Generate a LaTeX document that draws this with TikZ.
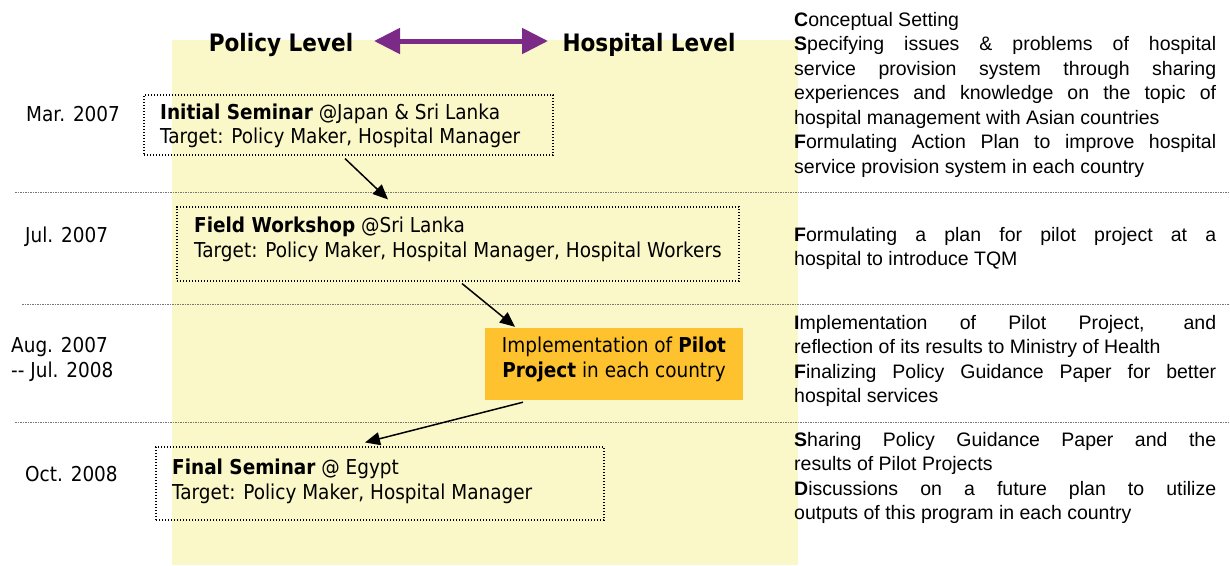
\documentclass[tikz,border=0pt]{standalone}
\usepackage{fontspec}
\setmainfont{Liberation Sans}
\newfontfamily\tah{DejaVu Sans}[FakeStretch=0.9]
\usetikzlibrary{arrows.meta}
\definecolor{bgyellow}{RGB}{250,247,200}
\definecolor{pilotorange}{RGB}{253,194,46}
\definecolor{levelpurple}{RGB}{124,42,136}
\definecolor{sepgray}{RGB}{120,120,120}
\newcommand{\jline}[1]{\makebox[422pt][s]{#1}}
\begin{document}
\begin{tikzpicture}[x=1pt,y=-1pt,
  lt/.style={anchor=base west, inner sep=0pt, font=\tah\fontsize{20.5}{24}\selectfont},
  ht/.style={anchor=base, inner sep=0pt, font=\tah\bfseries\fontsize{24}{28}\selectfont},
  rt/.style={anchor=base west, inner sep=0pt, font=\fontsize{19.5}{24}\selectfont},
  dotbox/.style={draw=black, line width=1.1pt, dash pattern=on 1.1pt off 1.9pt, rectangle, inner sep=0pt},
  sepline/.style={draw=sepgray, line width=0.8pt, dash pattern=on 1.5pt off 1pt},
  flow/.style={draw=black, line width=1.5pt, -{Triangle[length=15pt,width=13pt]}}
]
\useasboundingbox (0,0) rectangle (1230,565);
% background column
\fill[bgyellow] (172,40) rectangle (798,565);
% separators
\draw[sepline] (15,192) -- (1230,192);
\draw[sepline] (22,304) -- (1230,304);
\draw[sepline] (15,422) -- (1230,422);
% headings
\node[ht] (pol) at (281,51) {Policy Level};
\node[ht] (hos) at (649,51) {Hospital Level};
\coordinate (arL) at (374,41);
\coordinate (arR) at (548,41);
\draw[levelpurple, line width=5pt, {Triangle[length=26pt,width=25pt]}-{Triangle[length=26pt,width=25pt]}] (arL) -- (arR);
% dates
\node[lt] (d1) at (26,121) {Mar. 2007};
\node[lt] (d2) at (25,242) {Jul. 2007};
\node[lt] (d3a) at (11,352) {Aug. 2007};
\node[lt] (d3b) at (11,377) {-- Jul. 2008};
\node[lt] (d4) at (25,481) {Oct. 2008};
% boxes
\node[dotbox, minimum width=409pt, minimum height=60pt] (b1) at (348.5,125) {};
\node[lt] (b1a) at (160,119) {\textbf{Initial Seminar} @Japan \& Sri Lanka};
\node[lt] (b1b) at (160,143) {Target: Policy Maker, Hospital Manager};
\node[dotbox, minimum width=562pt, minimum height=74pt] (b2) at (458,244) {};
\node[lt] (b2a) at (194,232) {\textbf{Field Workshop} @Sri Lanka};
\node[lt] (b2b) at (194,257) {Target: Policy Maker, Hospital Manager, Hospital Workers};
\node[fill=pilotorange, rectangle, minimum width=258pt, minimum height=72pt, inner sep=0pt] (b3) at (614,364) {};
\node[lt, anchor=base] (b3a) at (614,352) {Implementation of \textbf{Pilot}};
\node[lt, anchor=base] (b3b) at (614,377) {\textbf{Project} in each country};
\node[dotbox, minimum width=448pt, minimum height=73pt] (b4) at (380,483.5) {};
\node[lt] (b4a) at (172,474) {\textbf{Final Seminar} @ Egypt};
\node[lt] (b4b) at (172,499) {Target: Policy Maker, Hospital Manager};
% connectors
\draw[flow] ([xshift=-3.5pt,yshift=-3pt]b1.south) -- ([xshift=-70pt,yshift=7pt]b2.north);
\draw[flow] ([xshift=4pt,yshift=-2pt]b2.south) -- ([xshift=-99pt,yshift=1pt]b3.north);
\draw[flow] ([xshift=-91pt,yshift=-2pt]b3.south) -- ([xshift=-15pt,yshift=4pt]b4.north);
% right column
\node[rt] (r1) at (794,26) {\textbf{C}onceptual Setting};
\node[rt] (r2) at (794,50.5) {\jline{\textbf{S}pecifying issues \& problems of hospital}};
\node[rt] (r3) at (794,75) {\jline{service provision system through sharing}};
\node[rt] (r4) at (794,99.5) {\jline{experiences and knowledge on the topic of}};
\node[rt] (r5) at (794,124) {hospital management with Asian countries};
\node[rt] (r6) at (794,148.5) {\jline{\textbf{F}ormulating Action Plan to improve hospital}};
\node[rt] (r7) at (794,173) {service provision system in each country};
\node[rt] (r8) at (794,241) {\jline{\textbf{F}ormulating a plan for pilot project at a}};
\node[rt] (r9) at (794,265.5) {hospital to introduce TQM};
\node[rt] (r10) at (794,329) {\jline{\textbf{I}mplementation of Pilot Project, and}};
\node[rt] (r11) at (794,353.5) {reflection of its results to Ministry of Health};
\node[rt] (r12) at (794,378) {\jline{\textbf{F}inalizing Policy Guidance Paper for better}};
\node[rt] (r13) at (794,402.5) {hospital services};
\node[rt] (r14) at (794,446) {\jline{\textbf{S}haring Policy Guidance Paper and the}};
\node[rt] (r15) at (794,470.5) {results of Pilot Projects};
\node[rt] (r16) at (794,495) {\jline{\textbf{D}iscussions on a future plan to utilize}};
\node[rt] (r17) at (794,519.5) {outputs of this program in each country};
\end{tikzpicture}
\end{document}
